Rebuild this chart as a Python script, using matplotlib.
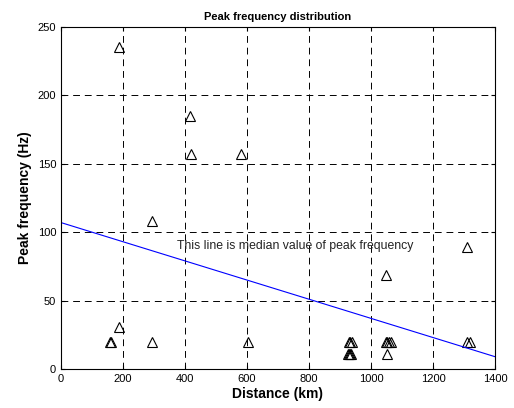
import numpy as np
import matplotlib
matplotlib.use('Agg')
import matplotlib.pyplot as plt

plt.rcParams['font.family'] = ['Liberation Sans', 'DejaVu Sans']

# measured points: distance (km), peak frequency (Hz)
distance = [187, 417, 418, 580, 292, 1309, 1047, 187,
            157, 160, 292, 604,
            928, 933, 938, 925, 929, 933, 937,
            1048, 1053, 1058, 1063, 1052,
            1310, 1318]
peak_freq = [235, 185, 157, 157, 108, 89, 69, 31,
             20, 20, 20, 20,
             20, 20, 20, 11, 11, 11, 11,
             20, 20, 20, 20, 11,
             20, 20]

# median trend line
line_x = [0, 1400]
line_y = [107, 9]

fig = plt.figure(figsize=(5.14, 4.08), dpi=100)
ax = fig.add_axes([0.1187, 0.0956, 0.8443, 0.8384])

ax.plot(distance, peak_freq, linestyle='none', marker='^', markersize=7,
        markerfacecolor='none', markeredgecolor='black', markeredgewidth=0.8)
ax.plot(line_x, line_y, color='blue', linewidth=0.8)

ax.text(755, 90, 'This line is median value of peak frequency',
        ha='center', va='center', fontsize=8.8, color='#222222')

ax.set_xlim(0, 1400)
ax.set_ylim(0, 250)
ax.set_xticks(np.arange(0, 1401, 200))
ax.set_yticks(np.arange(0, 251, 50))
ax.grid(True, color='black', linestyle=(0, (7, 5)), linewidth=0.7)
ax.tick_params(direction='in', labelsize=8, length=3, top=True, right=True)
for s in ax.spines.values():
    s.set_linewidth(0.8)

ax.set_title('Peak frequency distribution', fontsize=8, fontweight='bold', pad=5)
ax.set_xlabel('Distance (km)', fontsize=10, fontweight='bold', labelpad=2)
ax.set_ylabel('Peak frequency (Hz)', fontsize=10, fontweight='bold', labelpad=4)

fig.savefig('out.png', dpi=100)
